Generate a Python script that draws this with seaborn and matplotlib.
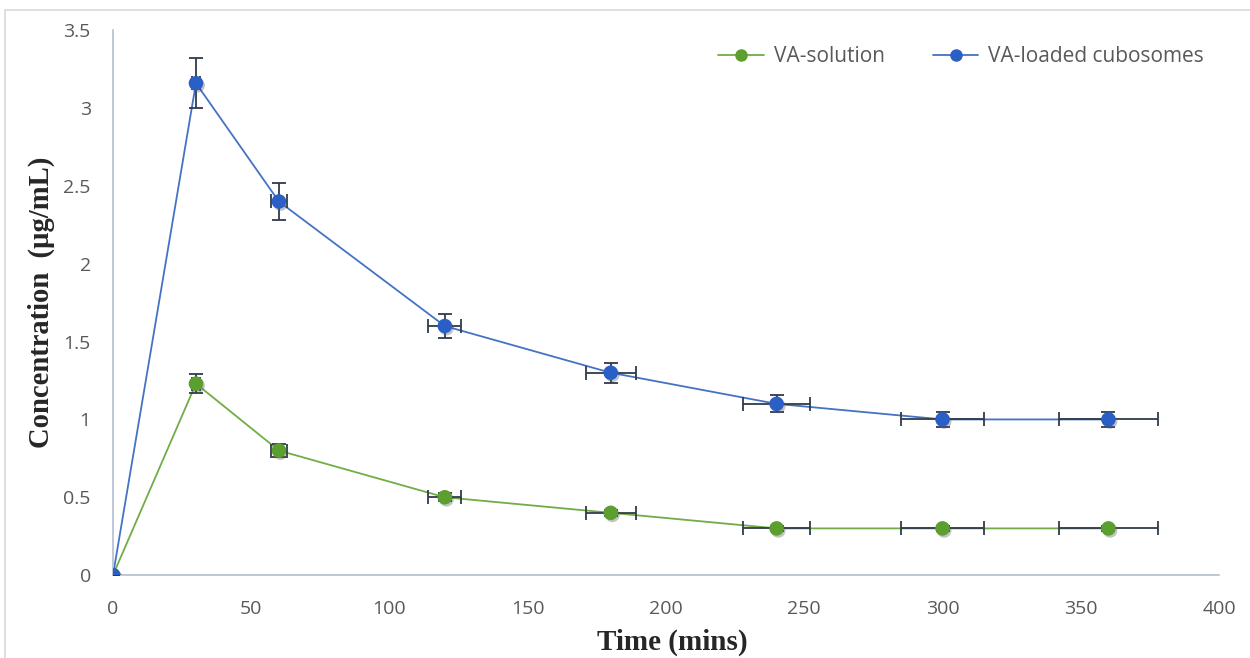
import numpy as np
import pandas as pd
import seaborn as sns
import matplotlib.pyplot as plt
import matplotlib.patheffects as pe
from matplotlib.patches import Rectangle

# données
time_min = [0, 30, 60, 120, 180, 240, 300, 360]
solution = [0, 1.23, 0.80, 0.50, 0.40, 0.30, 0.30, 0.30]
cubosomes = [0, 3.16, 2.40, 1.60, 1.30, 1.10, 1.00, 1.00]
solution_yerr = [0, 0.06, 0.04, 0.025, 0.02, 0.015, 0.015, 0.015]
cubosomes_yerr = [0, 0.16, 0.12, 0.08, 0.065, 0.055, 0.05, 0.05]
time_xerr = [0, 1.5, 3, 6, 9, 12, 15, 18]

series_names = ["VA-solution", "VA-loaded cubosomes"]
line_colors = {"VA-solution": "#70ad47", "VA-loaded cubosomes": "#4472c4"}
marker_colors = {"VA-solution": "#5b9f2f", "VA-loaded cubosomes": "#2a5fc7"}

df = pd.DataFrame({
    "time": time_min * 2,
    "conc": solution + cubosomes,
    "serie": [series_names[0]] * len(time_min) + [series_names[1]] * len(time_min),
})

sns.set_style("white")
plt.rcParams["font.family"] = ["Open Sans", "DejaVu Sans"]

fig = plt.figure(figsize=(12.5, 6.58), dpi=100)
ax = fig.add_axes([0.0904, 0.126, 0.8848, 0.828])

# cadre clair autour du graphique
fig.patches.append(Rectangle((0.004, -0.1), 1.2, 1.0 - 0.015 + 0.1, transform=fig.transFigure,
                             fill=False, edgecolor="#d9d9d9", linewidth=1.2))

sns.lineplot(data=df, x="time", y="conc", hue="serie", hue_order=series_names,
             palette=line_colors, linewidth=1.3, marker=None, legend=False, ax=ax, zorder=2)

shadow = [pe.SimplePatchShadow(offset=(1.2, -1.5), shadow_rgbFace="#555555", alpha=0.35),
          pe.Normal()]
for name, vals, yerr in [(series_names[0], solution, solution_yerr),
                          (series_names[1], cubosomes, cubosomes_yerr)]:
    ax.errorbar(time_min, vals, xerr=time_xerr, yerr=yerr, fmt="none",
                ecolor="#2f3a4a", elinewidth=1.3, capsize=5, capthick=1.3, zorder=3)
    pts = ax.scatter(time_min, vals, s=110, color=marker_colors[name], edgecolor="none", zorder=4)
    pts.set_path_effects(shadow)

# légende
handles = [plt.Line2D([], [], color=line_colors[n], linewidth=1.3, marker="o", markersize=8,
                      markerfacecolor=marker_colors[n], markeredgecolor=marker_colors[n])
           for n in series_names]
ax.legend(handles, series_names, loc="upper right", bbox_to_anchor=(1.003, 1.005), ncol=2,
          frameon=False, fontsize=15, handlelength=2.2, handletextpad=0.45, columnspacing=2.3,
          labelcolor="#595959")

ax.set_xlim(0, 400)
ax.set_ylim(0, 3.5)
ax.set_xticks(np.arange(0, 401, 50))
ax.set_yticks([0, 0.5, 1, 1.5, 2, 2.5, 3, 3.5])
ax.set_yticklabels(["0", "0.5", "1", "1.5", "2", "2.5", "3", "3.5"])
ax.tick_params(axis="both", length=0, labelsize=14, labelcolor="#595959")
ax.tick_params(axis="x", pad=18)
ax.tick_params(axis="y", pad=16)

for side in ["top", "right"]:
    ax.spines[side].set_visible(False)
for side in ["left", "bottom"]:
    ax.spines[side].set_color("#b4bfd0")
    ax.spines[side].set_linewidth(1.2)

ax.set_xlabel("Time (mins)", family="Liberation Serif", fontweight="bold", fontsize=21)
ax.xaxis.set_label_coords(0.506, -0.098)
ax.set_ylabel("Concentration  (µg/mL)", family="Liberation Serif", fontweight="bold",
              fontsize=20.6, labelpad=6)

fig.savefig("out.png", dpi=100)
